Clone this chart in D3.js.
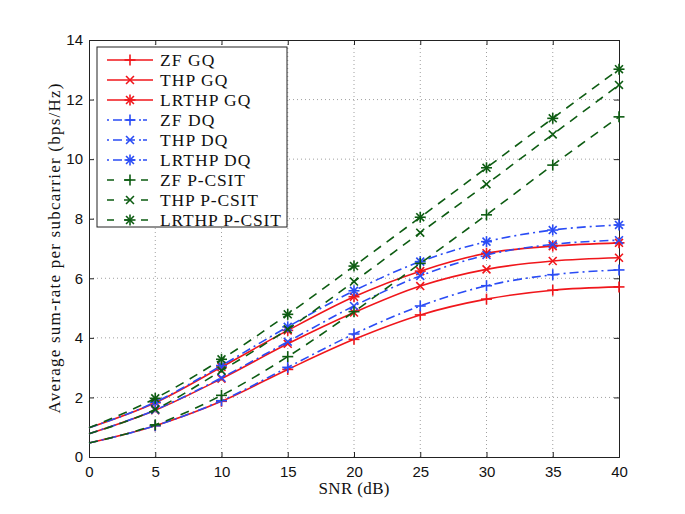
<!DOCTYPE html>
<html><head><meta charset="utf-8">
<script src="https://cdn.jsdelivr.net/npm/d3@7"></script>
<style>body{margin:0;background:#fff}</style>
</head><body>
<svg id="c" width="685" height="514"></svg>
<script>
const snr = [0,5,10,15,20,25,30,35,40];
const xTicks = [0,5,10,15,20,25,30,35,40];
const yTicks = [0,2,4,6,8,10,12,14];
const zfGQ   = [0.47,1.05,1.87,2.94,3.95,4.77,5.30,5.60,5.71];
const thpGQ  = [0.78,1.57,2.63,3.80,4.85,5.74,6.30,6.58,6.69];
const lrGQ   = [0.98,1.82,3.02,4.25,5.38,6.24,6.84,7.08,7.19];
const zfDQ   = [0.47,1.05,1.89,3.01,4.13,5.07,5.75,6.12,6.28];
const thpDQ  = [0.78,1.58,2.66,3.87,5.07,6.08,6.78,7.14,7.28];
const lrDQ   = [0.98,1.84,3.07,4.37,5.58,6.56,7.23,7.62,7.79];
const zfP    = [0.47,1.08,2.07,3.37,4.88,6.50,8.13,9.80,11.42];
const thpP   = [0.78,1.60,2.90,4.29,5.89,7.53,9.16,10.83,12.49];
const lrP    = [0.98,1.97,3.28,4.79,6.41,8.05,9.71,11.37,13.02];
const names = ["ZF GQ","THP GQ","LRTHP GQ","ZF DQ","THP DQ","LRTHP DQ","ZF P-CSIT","THP P-CSIT","LRTHP P-CSIT"];

const RED="#f0161b", BLUE="#2a4cf5", GREEN="#0d5c12";
const series = [
 {name:names[0],v:zfGQ,c:RED,dash:null,m:"plus"},
 {name:names[1],v:thpGQ,c:RED,dash:null,m:"x"},
 {name:names[2],v:lrGQ,c:RED,dash:null,m:"star"},
 {name:names[3],v:zfDQ,c:BLUE,dash:"9,4,2,4",m:"plus"},
 {name:names[4],v:thpDQ,c:BLUE,dash:"9,4,2,4",m:"x"},
 {name:names[5],v:lrDQ,c:BLUE,dash:"9,4,2,4",m:"star"},
 {name:names[6],v:zfP,c:GREEN,dash:"9,7",m:"plus"},
 {name:names[7],v:thpP,c:GREEN,dash:"9,7",m:"x"},
 {name:names[8],v:lrP,c:GREEN,dash:"9,7",m:"star"},
];

const L=89,R=619,T=40,B=457;
const SERIF="'Liberation Serif', 'Times New Roman', Times, serif";
const SANS="'Liberation Sans', Arial, Helvetica, sans-serif";
const svg=d3.select("#c");
const x=d3.scaleLinear().domain([0,40]).range([L,R]);
const y=d3.scaleLinear().domain([0,14]).range([B,T]);

// grid
const g=svg.append("g");
g.selectAll(".gx").data(xTicks.slice(1,-1)).join("line")
 .attr("x1",d=>x(d)).attr("x2",d=>x(d)).attr("y1",T).attr("y2",B)
 .attr("stroke","#888").attr("stroke-width",0.8).attr("stroke-dasharray","1,3");
g.selectAll(".gy").data(yTicks.slice(1,-1)).join("line")
 .attr("y1",d=>y(d)).attr("y2",d=>y(d)).attr("x1",L).attr("x2",R)
 .attr("stroke","#888").attr("stroke-width",0.8).attr("stroke-dasharray","1,3");

// axes
const ax=svg.append("g").attr("transform",`translate(0,${B})`)
 .call(d3.axisBottom(x).tickValues(xTicks).tickSize(-5).tickPadding(9));
const axT=svg.append("g").attr("transform",`translate(0,${T})`)
 .call(d3.axisTop(x).tickValues(xTicks).tickSize(-5).tickFormat(""));
const ay=svg.append("g").attr("transform",`translate(${L},0)`)
 .call(d3.axisLeft(y).tickValues(yTicks).tickSize(-5).tickPadding(6));
const ayR=svg.append("g").attr("transform",`translate(${R},0)`)
 .call(d3.axisRight(y).tickValues(yTicks).tickSize(-5).tickFormat(""));
[ax,axT,ay,ayR].forEach(a=>{
  a.selectAll("path").attr("stroke","#222").attr("stroke-width",1);
  a.selectAll("line").attr("stroke","#222");
  a.selectAll("text").attr("font-family",SANS).attr("font-size",15).attr("fill","#111");
});

// lines
const line=d3.line().x((d,i)=>x(snr[i])).y(d=>y(d)).curve(d3.curveMonotoneX);
function marker(sel,type,cx,cy,c,s){
  const gg=sel.append("g").attr("transform",`translate(${cx},${cy})`).attr("stroke",c).attr("stroke-width",1.6).attr("fill","none");
  const r=s;
  if(type==="plus"||type==="star"){
    gg.append("line").attr("x1",-r).attr("x2",r).attr("y1",0).attr("y2",0);
    gg.append("line").attr("x1",0).attr("x2",0).attr("y1",-r).attr("y2",r);
  }
  if(type==="x"||type==="star"){
    const q=r*0.72;
    gg.append("line").attr("x1",-q).attr("x2",q).attr("y1",-q).attr("y2",q);
    gg.append("line").attr("x1",-q).attr("x2",q).attr("y1",q).attr("y2",-q);
  }
}
const plot=svg.append("g");
series.forEach(s=>{
  plot.append("path").attr("d",line(s.v)).attr("fill","none").attr("stroke",s.c)
   .attr("stroke-width",1.6).attr("stroke-dasharray",s.dash);
  s.v.forEach((v,i)=>{ if(i>0) marker(plot,s.m,x(snr[i]),y(v),s.c,5.5); });
});

// legend
const lg=svg.append("g");
lg.append("rect").attr("x",97).attr("y",47).attr("width",190).attr("height",180)
 .attr("fill","#fff").attr("stroke","#222").attr("stroke-width",1);
const legTexts=[];
series.forEach((s,i)=>{
  const yy=60+i*20;
  lg.append("line").attr("x1",107).attr("x2",153).attr("y1",yy).attr("y2",yy)
   .attr("stroke",s.c).attr("stroke-width",1.6).attr("stroke-dasharray",s.dash? (s.c===BLUE?"2,4,9,4,9,4,2":"7,10"):null);
  marker(lg,s.m,130,yy,s.c,5.5);
  legTexts.push(lg.append("text").attr("x",160).attr("y",yy+6).text(s.name)
   .attr("font-family",SERIF).attr("font-size",17.5).attr("fill","#111"));
});
// stretch to the reference's wider (Computer Modern-like) widths
const kLeg = 121 / legTexts[8].node().getComputedTextLength();
legTexts.forEach(t=>{ if(kLeg>1) t.attr("textLength", t.node().getComputedTextLength()*kLeg).attr("lengthAdjust","spacing"); });

// axis labels
const xl=svg.append("text").attr("x",(L+R)/2).attr("y",494).attr("text-anchor","middle")
 .attr("font-family",SERIF).attr("font-size",17).attr("fill","#111").text("SNR (dB)");
if(xl.node().getComputedTextLength()<71) xl.attr("textLength",71).attr("lengthAdjust","spacing");
const yl=svg.append("text").attr("transform",`translate(60,${(T+B)/2}) rotate(-90)`).attr("text-anchor","middle")
 .attr("font-family",SERIF).attr("font-size",17).attr("fill","#111")
 .text("Average sum-rate per subcarrier (bps/Hz)");
if(yl.node().getComputedTextLength()<330) yl.attr("textLength",330).attr("lengthAdjust","spacing");
</script>
</body></html>
